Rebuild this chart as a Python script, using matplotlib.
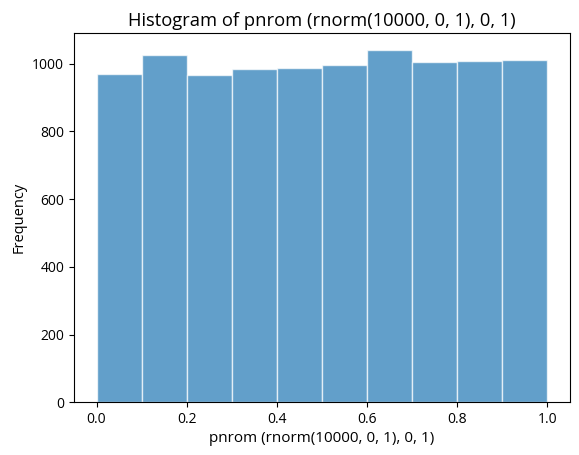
import matplotlib
matplotlib.use("Agg")
import matplotlib.pyplot as plt
import numpy as np

plt.rcParams['font.family'] = ['Open Sans', 'DejaVu Sans']

bin_edges = [0.0, 0.1, 0.2, 0.3, 0.4, 0.5, 0.6, 0.7, 0.8, 0.9, 1.0]
counts = [969, 1025, 966, 983, 986, 995, 1039, 1005, 1007, 1010]
title = "Histogram of pnrom (rnorm(10000, 0, 1), 0, 1)"
xlabel = "pnrom (rnorm(10000, 0, 1), 0, 1)"
ylabel = "Frequency"

fig = plt.figure(figsize=(5.79, 4.55), dpi=100)
ax = fig.add_axes([0.1278, 0.1158, 0.8567, 0.8123])

edges = np.array(bin_edges)
ax.hist(edges[:-1], bins=edges, weights=counts, color='#1f77b4', alpha=0.7,
        edgecolor='white')
ax.set_title(title, fontsize=13.2, pad=5)
ax.set_xlabel(xlabel, fontsize=11, labelpad=3)
ax.set_ylabel(ylabel, fontsize=10.5)
ax.tick_params(labelsize=10)

fig.savefig("out.png", dpi=100)
